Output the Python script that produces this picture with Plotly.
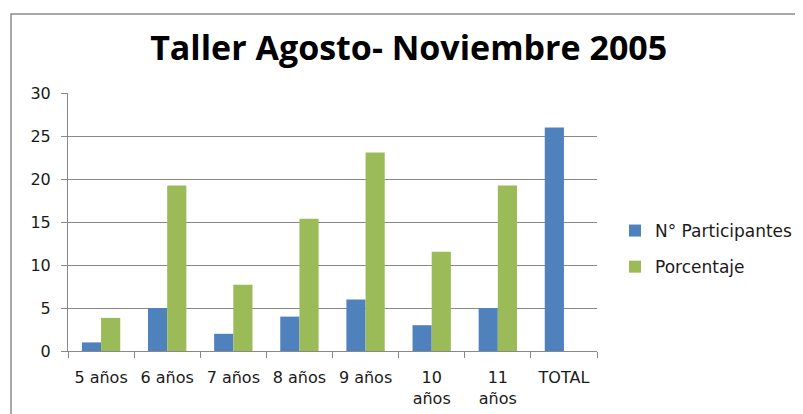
import plotly.graph_objects as go

categories = ["5 años", "6 años", "7 años", "8 años", "9 años", "10<br>años", "11<br>años", "TOTAL"]
participantes = [1, 5, 2, 4, 6, 3, 5, 26]
porcentaje = [3.85, 19.23, 7.69, 15.38, 23.08, 11.54, 19.23, None]
y_ticks = [0, 5, 10, 15, 20, 25, 30]

# page body has 8px margin; figure is laid out in its own coordinates
W, H = 795, 406
L, R, T, B = 60, 206, 85, 63
pw, ph = W - L - R, H - T - B

fig = go.Figure()
fig.add_trace(go.Bar(x=categories, y=participantes, name="N° Participantes",
                     marker=dict(color="#4F81BD", line=dict(width=0)), legendgroup="a"))
fig.add_trace(go.Bar(x=categories, y=porcentaje, name="Porcentaje",
                     marker=dict(color="#9BBB59", line=dict(width=0)), legendgroup="b"))

# chart border (top and left visible)
x0 = (3 - L) / pw
x1 = (W + 5 - L) / pw
y1 = (H - B - 6) / ph
y0 = (H - B - (H + 5)) / ph
fig.add_shape(type="rect", xref="paper", yref="paper", x0=x0, x1=x1, y0=y0, y1=y1,
              line=dict(color="#8C8C8C", width=1.5), fillcolor="rgba(0,0,0,0)", layer="below")

fig.update_layout(
    width=W, height=H,
    margin=dict(l=L, r=R, t=T, b=B, autoexpand=False),
    paper_bgcolor="white", plot_bgcolor="white",
    barmode="group", bargap=0.42, bargroupgap=0,
    font=dict(family="DejaVu Sans", size=16, color="#1a1a1a"),
    title=dict(text="<b>Taller Agosto- Noviembre 2005</b>", x=0.504, xanchor="center",
               y=1 - 40 / H, yanchor="middle",
               font=dict(family="Open Sans", size=34, color="#000000")),
    legend=dict(x=(607 - L) / pw, xanchor="left", y=(H - B - 241) / ph, yanchor="middle",
                font=dict(family="DejaVu Sans", size=17, color="#1a1a1a"), tracegroupgap=11,
                itemwidth=30, bgcolor="rgba(0,0,0,0)"),
    showlegend=True,
)
fig.update_xaxes(showline=True, linecolor="#888888", linewidth=1, ticks="outside",
                 tickson="boundaries", ticklen=6, tickcolor="#888888", automargin=False,
                 showgrid=False, tickfont=dict(size=16), ticklabelstandoff=12)
fig.update_yaxes(range=[0, 30], tickvals=y_ticks, showline=True, linecolor="#888888",
                 linewidth=1, ticks="outside", ticklen=6, tickcolor="#888888", automargin=False,
                 showgrid=True, gridcolor="#888888", gridwidth=1, zeroline=False,
                 tickfont=dict(size=16), ticklabelstandoff=7)

fig.write_html("out.html")
